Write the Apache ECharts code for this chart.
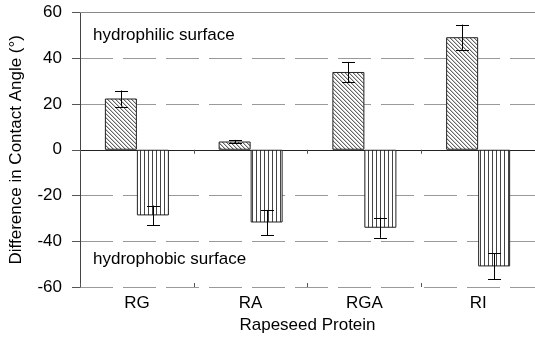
<!DOCTYPE html>
<html><head><meta charset="utf-8">
<script src="https://cdn.jsdelivr.net/npm/echarts@6/dist/echarts.min.js"></script>
<style>html,body{margin:0;padding:0;background:#fff}#c{width:535px;height:339px}</style>
</head><body><div id="c"></div>
<script>
const categories = ['RG', 'RA', 'RGA', 'RI'];
const hydrophilic = [22.4, 3.6, 34.0, 49.2];
const hydrophilicErr = [3.5, 0.7, 4.4, 5.5];
const hydrophobic = [-28.7, -31.8, -34.1, -51.0];
const hydrophobicErr = [4.3, 5.5, 4.4, 5.7];
const yTicks = [-60, -40, -20, 0, 20, 40, 60];

const FONT = 'Liberation Sans, Arial, Helvetica, sans-serif';

function makePattern(kind) {
  const c = document.createElement('canvas');
  if (kind === 'diag') {
    c.width = 4; c.height = 4;
    const g = c.getContext('2d');
    g.fillStyle = '#fff'; g.fillRect(0, 0, 4, 4);
    g.fillStyle = '#666';
    for (let i = 0; i < 4; i++) g.fillRect(i, i, 1, 1);
    g.fillStyle = '#c8c8c8';
    for (let i = 0; i < 4; i++) g.fillRect((i + 1) % 4, i, 1, 1);
  } else {
    c.width = 4; c.height = 4;
    const g = c.getContext('2d');
    g.fillStyle = '#fff'; g.fillRect(0, 0, 4, 4);
    g.fillStyle = '#444';
    g.fillRect(0, 0, 1, 4);
  }
  return c;
}

const chart = echarts.init(document.getElementById('c'), null, {renderer: 'canvas'});
const BW = 32;

function errData(vals, errs) {
  return vals.map((v, i) => [i, v - errs[i], v + errs[i]]);
}
function errSeries(vals, errs, side) {
  return {
    type: 'custom',
    xAxisIndex: 0, yAxisIndex: 0,
    z: 10,
    data: errData(vals, errs),
    renderItem: function (params, api) {
      const lo = api.coord([api.value(0), api.value(1)]);
      const hi = api.coord([api.value(0), api.value(2)]);
      const x = Math.round(lo[0] + side * BW / 2) + 0.5;
      const cap = 6.5;
      const s = {stroke: '#000', lineWidth: 1};
      return {type: 'group', children: [
        {type: 'line', shape: {x1: x, y1: lo[1], x2: x, y2: hi[1]}, style: s},
        {type: 'line', shape: {x1: x - cap, y1: Math.round(lo[1]) + 0.5, x2: x + cap, y2: Math.round(lo[1]) + 0.5}, style: s},
        {type: 'line', shape: {x1: x - cap, y1: Math.round(hi[1]) + 0.5, x2: x + cap, y2: Math.round(hi[1]) + 0.5}, style: s}
      ]};
    }
  };
}

const option = {
  animation: false,
  backgroundColor: '#fff',
  grid: {left: 76.5, top: 12.5, width: 462, height: 279, containLabel: false},
  xAxis: [{
    type: 'category', data: categories, position: 'bottom',
    name: 'Rapeseed Protein', nameLocation: 'middle', nameGap: 30,
    nameTextStyle: {fontSize: 17, color: '#000', fontFamily: FONT},
    axisLine: {lineStyle: {color: '#222', width: 1}},
    axisTick: {show: true, length: 4, lineStyle: {color: '#555'}},
    axisLabel: {fontSize: 17, color: '#000', fontFamily: FONT, margin: 8},
    splitLine: {show: false}
  }, {
    type: 'category', data: categories, position: 'bottom',
    axisLine: {show: false},
    axisTick: {show: true, inside: true, length: 4, lineStyle: {color: '#555'}},
    axisLabel: {show: false}
  }, {
    type: 'category', data: categories, position: 'top',
    axisLine: {show: true, lineStyle: {color: '#888', width: 1}},
    axisTick: {show: false}, axisLabel: {show: false}
  }],
  yAxis: [{
    type: 'value', min: -60, max: 60, interval: 20,
    name: 'Difference in Contact Angle (°)', nameLocation: 'middle', nameGap: 55,
    nameTextStyle: {fontSize: 17, color: '#000', fontFamily: FONT},
    axisLine: {show: true, lineStyle: {color: '#444', width: 1}},
    axisTick: {show: true, length: 8, lineStyle: {color: '#555'}},
    axisLabel: {fontSize: 17, color: '#000', fontFamily: FONT, margin: 18,
      formatter: v => yTicks.includes(v) ? String(v) : ''},
    splitLine: {show: true, lineStyle: {color: '#999', width: 1, type: [33, 10]}}
  }],
  series: [{
    type: 'bar', name: 'hydrophilic', data: hydrophilic,
    barWidth: BW, barGap: '0%',
    itemStyle: {color: {image: makePattern('diag'), repeat: 'repeat'}, borderColor: '#222', borderWidth: 1}
  }, {
    type: 'bar', name: 'hydrophobic', data: hydrophobic,
    barWidth: BW, barGap: '0%',
    itemStyle: {color: {image: makePattern('vert'), repeat: 'repeat'}, borderColor: '#222', borderWidth: 1}
  },
  errSeries(hydrophilic, hydrophilicErr, -1),
  errSeries(hydrophobic, hydrophobicErr, 1)],
  graphic: [
    {type: 'text', left: 93, top: 27, style: {text: 'hydrophilic surface', fontSize: 17, fontFamily: FONT, fill: '#000'}},
    {type: 'text', left: 93, top: 251, style: {text: 'hydrophobic surface', fontSize: 17, fontFamily: FONT, fill: '#000'}}
  ]
};
chart.setOption(option);
</script></body></html>
